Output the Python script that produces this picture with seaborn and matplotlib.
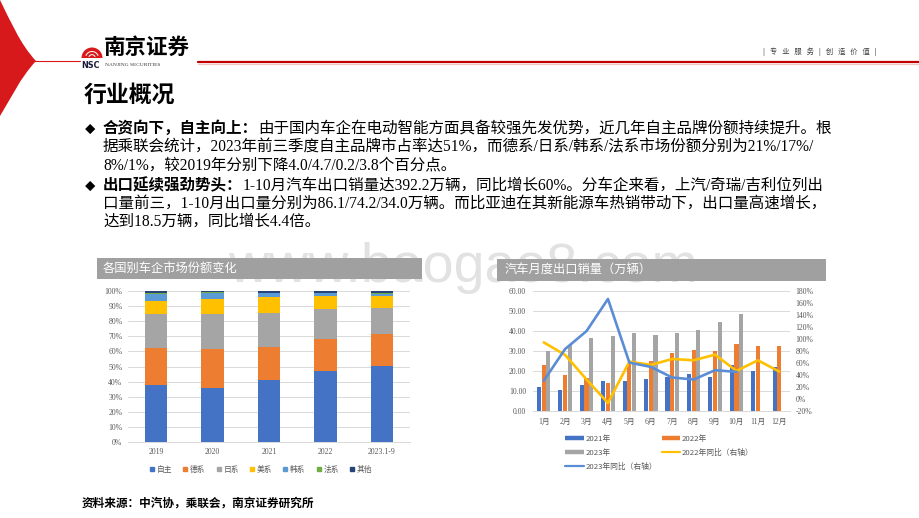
import matplotlib
matplotlib.use("Agg")
import matplotlib.pyplot as plt
import numpy as np
import pandas as pd
import seaborn as sns
from matplotlib import font_manager
from matplotlib.lines import Line2D
from matplotlib.patches import Rectangle, PathPatch, Wedge
from matplotlib.path import Path

W, H = 920, 518

# ── 各国别车企市场份额 (%) ────────────────────────────────────────────
share_years = ["2019", "2020", "2021", "2022", "2023.1-9"]
share_groups = ["自主", "德系", "日系", "美系", "韩系", "法系", "其他"]
share_zizhu = [37.5, 35.5, 41.2, 47.0, 50.6]
share_de = [25.0, 25.8, 22.0, 21.0, 20.7]
share_ri = [22.0, 23.6, 22.5, 20.1, 17.2]
share_mei = [9.0, 9.8, 10.0, 8.6, 8.2]
share_han = [4.5, 4.1, 2.8, 1.7, 1.6]
share_fa = [0.8, 0.4, 0.4, 0.4, 0.5]
share_other = [1.2, 0.8, 1.1, 1.2, 1.2]
share_colors = ["#4472C4", "#ED7D31", "#A5A5A5", "#FFC000", "#5B9BD5", "#70AD47", "#264478"]

# ── 汽车月度出口销量 (万辆) 与同比 (%) ─────────────────────────────────
months = ["1月", "2月", "3月", "4月", "5月", "6月", "7月", "8月", "9月", "10月", "11月", "12月"]
export_2021 = [11.8, 10.3, 13.1, 15.1, 15.1, 15.8, 17.2, 18.7, 17.2, 23.0, 20.1, 22.2]
export_2022 = [23.2, 18.1, 16.7, 14.1, 24.0, 24.9, 28.9, 30.7, 29.9, 33.5, 32.7, 32.3]
export_2023 = [29.9, 33.0, 36.3, 37.5, 38.8, 38.0, 39.0, 40.6, 44.3, 48.6]
yoy_2022 = [94.4, 73.4, 32.5, -6.7, 62.3, 56.8, 66.7, 64.5, 73.9, 46.8, 64.5, 45.7]
yoy_2023 = [30.3, 83.3, 113.2, 166.7, 60.7, 53.5, 35.8, 32.5, 48.0, 45.2]
export_labels = ["2021年", "2022年", "2023年"]
export_colors = ["#4472C4", "#ED7D31", "#A5A5A5"]
yoy_labels = ["2022年同比（右轴）", "2023年同比（右轴）"]
yoy_colors = ["#FFC000", "#5B8DD6"]

sns.set_theme(style="white")
CJK = ["Noto Sans CJK SC", "DejaVu Sans"]
SERIF = ["Liberation Serif", "Noto Sans CJK SC", "DejaVu Sans"]
plt.rcParams["font.family"] = CJK
plt.rcParams["axes.unicode_minus"] = False


def fig_rect(x0, y0, x1, y1):
    """Pixel box (top-left origin) -> figure fraction rect."""
    return [x0 / W, 1 - y1 / H, (x1 - x0) / W, (y1 - y0) / H]


fig = plt.figure(figsize=(W / 100, H / 100), dpi=100)
fig.patch.set_facecolor("white")

# background layer in pixel coordinates
bg = fig.add_axes([0, 0, 1, 1])
bg.set_xlim(0, W)
bg.set_ylim(H, 0)
bg.axis("off")

# watermark (the chart header bars hide its lower part)
try:
    font_manager.findfont("Liberation Sans Narrow", fallback_to_default=False)
    wm_family, wm_size = ["Liberation Sans Narrow"], 48
except ValueError:
    wm_family, wm_size = ["Liberation Sans"], 40
wm = bg.text(228, 282, "www.baogao8.com", family=wm_family, fontsize=wm_size,
             color="#e2e2e2", va="baseline", ha="left", zorder=0)
wm_clip = Rectangle((0, 0), W, 279, transform=bg.transData, facecolor="none", edgecolor="none")
bg.add_patch(wm_clip)
wm.set_clip_path(wm_clip)

# red crescent + header line
crescent = Path(
    [(0, 0), (10, 20), (20, 44), (36, 61), (20, 78), (10, 100), (0, 116), (0, 0)],
    [Path.MOVETO, Path.CURVE4, Path.CURVE4, Path.CURVE4,
     Path.CURVE4, Path.CURVE4, Path.CURVE4, Path.CLOSEPOLY],
)
bg.add_patch(PathPatch(crescent, facecolor="#D7191C", edgecolor="none", zorder=2))
bg.plot([30, 80], [61, 61], color="#D7191C", lw=0.8, zorder=2)
bg.plot([198, 920], [61.5, 61.5], color="#C00000", lw=1.6, zorder=2)
bg.plot([198, 920], [63.5, 63.5], color="#F2C4C4", lw=0.8, zorder=2)

# logo
bg.add_patch(Wedge((92, 58), 10.5, 180, 360, facecolor="#D7191C", edgecolor="none", zorder=3))
for r in (3.8, 7.0):
    bg.add_patch(Wedge((92, 58), r, 200, 340, width=1.0, facecolor="white", edgecolor="none", zorder=4))
bg.text(91, 65, "NSC", fontsize=5.8, fontweight="bold", color="#1a1a3a",
        ha="center", va="center", family=["DejaVu Sans"])
bg.text(104, 47, "南京证券", fontsize=15.5, fontweight="bold", color="black",
        ha="left", va="center", family=CJK)
bg.text(105, 65, "NANJING SECURITIES", fontsize=3.9, color="#333333",
        ha="left", va="center", family=["Liberation Serif"])
bg.text(820, 52, "|   专   业   服   务   |   创   造   价   值   |", fontsize=5.3, color="#404040",
        ha="center", va="center", family=CJK)

# title
bg.text(84, 95, "行业概况", fontsize=16.5, fontweight="bold", color="black",
        ha="left", va="center", family=CJK)

# bullet text
renderer = fig.canvas.get_renderer()
BODY = 11.2


def body_line(y, text, bold_prefix=None, x=103):
    if bold_prefix:
        t = bg.text(x, y, bold_prefix, fontsize=BODY, fontweight="bold", family=SERIF,
                    ha="left", va="center", color="black")
        bb = t.get_window_extent(renderer)
        x = bg.transData.inverted().transform((bb.x1, bb.y0))[0]
    bg.text(x, y, text, fontsize=BODY, family=SERIF, ha="left", va="center", color="black")


for yb in (130, 187):
    bg.text(90, yb, "◆", fontsize=7.5, family=CJK, ha="center", va="center", color="black")

body_line(129, "由于国内车企在电动智能方面具备较强先发优势，近几年自主品牌份额持续提升。根",
          bold_prefix="合资向下，自主向上：")
body_line(147, "据乘联会统计，2023年前三季度自主品牌市占率达51%，而德系/日系/韩系/法系市场份额分别为21%/17%/")
body_line(165, "8%/1%，较2019年分别下降4.0/4.7/0.2/3.8个百分点。")
body_line(186, "1-10月汽车出口销量达392.2万辆，同比增长60%。分车企来看，上汽/奇瑞/吉利位列出",
          bold_prefix="出口延续强劲势头：")
body_line(204, "口量前三，1-10月出口量分别为86.1/74.2/34.0万辆。而比亚迪在其新能源车热销带动下，出口量高速增长，")
body_line(222, "达到18.5万辆，同比增长4.4倍。")

# chart header bars
bg.add_patch(Rectangle((97, 258), 325, 21, facecolor="#A0A0A0", edgecolor="none", zorder=3))
bg.add_patch(Rectangle((497, 259), 329, 22, facecolor="#A0A0A0", edgecolor="none", zorder=3))
bg.text(103, 268.5, "各国别车企市场份额变化", fontsize=8.8, color="white", fontweight="medium",
        ha="left", va="center", family=CJK, zorder=4)
bg.text(505, 270, "汽车月度出口销量（万辆）", fontsize=8.8, color="white", fontweight="medium",
        ha="left", va="center", family=CJK, zorder=4)

# source
bg.text(82, 503, "资料来源：中汽协，乘联会，南京证券研究所", fontsize=8.4, fontweight="bold",
        color="black", ha="left", va="center", family=CJK)

TICK = 5.6
TICK_COLOR = "#595959"
GRID = "#D9D9D9"

# ── left chart: stacked share bars ─────────────────────────────────────
ax_l = fig.add_axes(fig_rect(128, 291, 410, 442))
ax_l.set_facecolor("none")
share_df = pd.DataFrame({
    "year": share_years,
    "自主": share_zizhu, "德系": share_de, "日系": share_ri, "美系": share_mei,
    "韩系": share_han, "法系": share_fa, "其他": share_other,
})
cum = share_df[share_groups].cumsum(axis=1)
for name, color in reversed(list(zip(share_groups, share_colors))):
    sns.barplot(x=share_df["year"], y=cum[name], color=color, width=0.4, saturation=1,
                linewidth=0, errorbar=None, ax=ax_l, zorder=3)
ax_l.set_ylim(0, 100)
ax_l.set_xlim(-0.5, 4.5)
ax_l.set_yticks(np.arange(0, 101, 10))
ax_l.set_yticklabels([f"{v}%" for v in range(0, 101, 10)])
ax_l.set_xlabel("")
ax_l.set_ylabel("")
ax_l.grid(axis="y", color=GRID, lw=0.7, zorder=0)
ax_l.set_axisbelow(True)
for s in ("top", "right", "left"):
    ax_l.spines[s].set_visible(False)
ax_l.spines["bottom"].set_color(GRID)
ax_l.spines["bottom"].set_linewidth(0.7)
ax_l.tick_params(axis="both", length=0, pad=4, labelsize=TICK, labelcolor=TICK_COLOR)
for lab in ax_l.get_xticklabels() + ax_l.get_yticklabels():
    lab.set_family(SERIF)

share_handles = [Line2D([], [], marker="s", linestyle="none", markersize=3.2,
                        markerfacecolor=c, markeredgecolor=c) for c in share_colors]
fig.legend(share_handles, share_groups, loc="center", ncol=7, frameon=False,
           bbox_to_anchor=(261 / W, 1 - 470 / H), fontsize=5.6, labelcolor=TICK_COLOR,
           handlelength=0.6, handletextpad=0.3, columnspacing=1.4, borderpad=0)

# ── right chart: monthly exports + yoy ─────────────────────────────────
ax_r = fig.add_axes(fig_rect(533, 291, 790, 411))
ax_r.set_facecolor("none")
export_df = pd.concat([
    pd.DataFrame({"month": months[:len(vals)], "value": vals, "year": lab})
    for lab, vals in zip(export_labels, [export_2021, export_2022, export_2023])
], ignore_index=True)
sns.barplot(data=export_df, x="month", y="value", hue="year", order=months,
            hue_order=export_labels, palette=export_colors, width=0.66, gap=0.12,
            saturation=1, linewidth=0, errorbar=None, legend=False, ax=ax_r, zorder=3)
ax_r.set_ylim(0, 60)
ax_r.set_xlim(-0.5, 11.5)
ax_r.set_yticks(np.arange(0, 61, 10))
ax_r.set_yticklabels([f"{v:.2f}" for v in range(0, 61, 10)])
ax_r.set_xlabel("")
ax_r.set_ylabel("")
ax_r.grid(axis="y", color=GRID, lw=0.7, zorder=0)
ax_r.set_axisbelow(True)
for s in ("top", "right", "left"):
    ax_r.spines[s].set_visible(False)
ax_r.spines["bottom"].set_color(GRID)
ax_r.spines["bottom"].set_linewidth(0.7)
ax_r.tick_params(axis="both", length=0, pad=5, labelsize=TICK, labelcolor=TICK_COLOR)

ax_r2 = ax_r.twinx()
ax_r2.set_facecolor("none")
yoy_df = pd.concat([
    pd.DataFrame({"month": months[:len(vals)], "pos": np.arange(len(vals)), "value": vals, "series": lab})
    for lab, vals in zip(yoy_labels, [yoy_2022, yoy_2023])
], ignore_index=True)
sns.lineplot(data=yoy_df, x="pos", y="value", hue="series", hue_order=yoy_labels,
             palette=yoy_colors, sort=False, linewidth=1.9, legend=False, ax=ax_r2, zorder=5)
ax_r2.set_ylim(-20, 180)
ax_r2.set_xlim(-0.5, 11.5)
ax_r2.set_yticks(np.arange(-20, 181, 20))
ax_r2.set_yticklabels([f"{v}%" for v in range(-20, 181, 20)])
ax_r2.set_ylabel("")
for s in ("top", "right", "left", "bottom"):
    ax_r2.spines[s].set_visible(False)
ax_r2.tick_params(axis="y", length=0, pad=4, labelsize=TICK, labelcolor=TICK_COLOR)
for lab in ax_r.get_xticklabels() + ax_r.get_yticklabels() + ax_r2.get_yticklabels():
    lab.set_family(SERIF)

exp_handles = [Line2D([], [], color=c, lw=3.2, solid_capstyle="butt") for c in export_colors]
yoy_handles = [Line2D([], [], color=c, lw=1.6) for c in yoy_colors]
# column-filled legend: col 1 = 2021, 2023, 2023同比; col 2 = 2022, 2022同比
leg_handles = [exp_handles[0], exp_handles[2], yoy_handles[1], exp_handles[1], yoy_handles[0]]
leg_labels = [export_labels[0], export_labels[2], yoy_labels[1], export_labels[1], yoy_labels[0]]
fig.legend(leg_handles, leg_labels, loc="upper left", ncol=2, frameon=False,
           bbox_to_anchor=(565 / W, 1 - 435 / H), fontsize=5.6, labelcolor=TICK_COLOR,
           handlelength=2.4, handletextpad=0.2, columnspacing=0.6, labelspacing=0.75,
           borderpad=0, borderaxespad=0)

fig.savefig("out.png", dpi=100)
